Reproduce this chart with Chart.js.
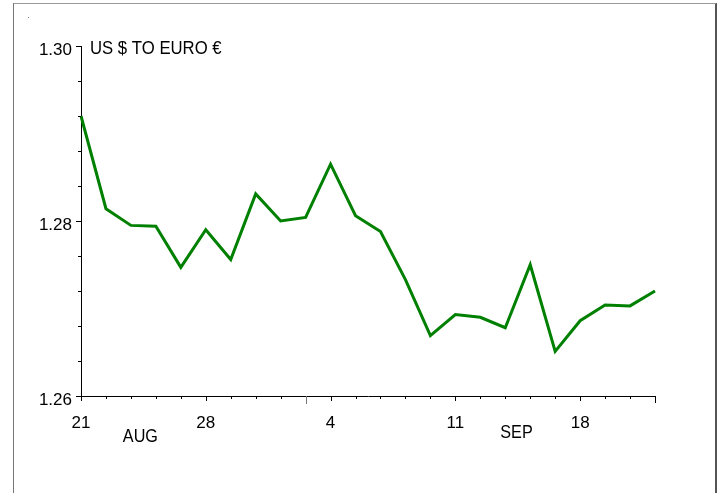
<!DOCTYPE html>
<html>
<head>
<meta charset="utf-8">
<script src="https://cdn.jsdelivr.net/npm/chart.js@4.4.0/dist/chart.umd.min.js"></script>
<style>
  html, body { margin: 0; padding: 0; background: #fff; }
  #wrap { position: relative; width: 723px; height: 493px; }
  #frame { position: absolute; left: 13px; top: 3px; width: 701px; height: 500px;
           border-top: 1px solid #999; border-left: 1px solid #777; border-right: 2px solid #555; }
  canvas { position: absolute; left: 0; top: 0; }
</style>
</head>
<body>
<div id="wrap">
  <div id="frame"></div>
  <canvas id="fx" width="723" height="493"></canvas>
</div>
<script>
// trading days, 21 Aug - 21 Sep
var days = ["21","22","23","24","25","28","29","30","31","1",
            "4","5","6","7","8","11","12","13","14","15","18","19","20","21"];
var usdEur = [1.2920, 1.2814, 1.2795, 1.2794, 1.2747, 1.2790, 1.2756, 1.2831, 1.2800, 1.2804,
              1.2865, 1.2806, 1.2788, 1.2733, 1.2669, 1.2693, 1.2690, 1.2678, 1.2750, 1.2651,
              1.2686, 1.2704, 1.2703, 1.2720];
var labelIdx = [0, 5, 10, 15, 20];   // 21, 28, 4, 11, 18
var yLabels = [1.26, 1.28, 1.30];
var months = [{ name: "AUG", at: 2.38, dy: 41 }, { name: "SEP", at: 17.45, dy: 37 }];
var monthStart = 9;                  // 1 Sep

var FONT = "'Liberation Sans', Arial, sans-serif";

var extras = {
  id: "extras",
  afterDraw: function (chart) {
    var c = chart.ctx, x = chart.scales.x, y = chart.scales.y;
    var ca = chart.chartArea;
    c.save();
    c.strokeStyle = "#000";
    c.lineWidth = 1;
    // x ticks
    for (var i = 0; i < days.length; i++) {
      var px = Math.round(x.getPixelForValue(i)) + 0.5;
      var len = labelIdx.indexOf(i) >= 0 ? 5 : 3;
      if (i === days.length - 1) len = 7;
      c.beginPath(); c.moveTo(px, ca.bottom); c.lineTo(px, ca.bottom + len); c.stroke();
    }
    var mp = Math.round(x.getPixelForValue(monthStart)) + 0.5;
    c.strokeStyle = "#777";
    c.beginPath(); c.moveTo(mp, ca.bottom); c.lineTo(mp, ca.bottom + 8); c.stroke();
    // y ticks
    c.strokeStyle = "#000";
    for (var v = 0; v <= 10; v++) {
      var py = Math.round(y.getPixelForValue(1.26 + v * 0.004)) + 0.5;
      var l = (v % 5 === 0) ? 5 : 3;
      c.beginPath(); c.moveTo(ca.left, py); c.lineTo(ca.left - l, py); c.stroke();
    }
    // month names
    c.fillStyle = "#000";
    c.textAlign = "center";
    c.textBaseline = "middle";
    months.forEach(function (m) {
      c.save();
      c.translate(x.getPixelForValue(m.at), ca.bottom + m.dy);
      c.scale(0.9, 1);
      c.font = "18px " + FONT;
      c.fillText(m.name, 0, 0);
      c.restore();
    });
    // title
    c.save();
    c.translate(ca.left + 9, ca.top + 3);
    c.scale(0.88, 1);
    c.textAlign = "left";
    c.font = "19px " + FONT;
    c.fillText("US $ TO EURO \u20AC", 0, 0);
    c.restore();
    // small speck top-left
    c.fillStyle = "#888";
    c.fillRect(28, 17, 1, 1);
    c.restore();
  }
};

new Chart(document.getElementById("fx"), {
  type: "line",
  data: {
    labels: days,
    datasets: [{
      data: usdEur,
      borderColor: "#008000",
      borderWidth: 3,
      pointRadius: 0,
      tension: 0,
      fill: false
    }]
  },
  options: {
    responsive: false,
    animation: false,
    layout: { padding: { left: 21, top: 46, right: 68, bottom: 0 } },
    plugins: { legend: { display: false }, tooltip: { enabled: false } },
    scales: {
      x: {
        type: "category",
        offset: false,
        afterFit: function (s) { s.height = 97; },
        grid: { display: false },
        border: { display: true, color: "#000", width: 1 },
        ticks: {
          autoSkip: false,
          maxRotation: 0,
          padding: 9,
          color: "#000",
          font: { family: FONT, size: 17 },
          callback: function (val, i) { return labelIdx.indexOf(i) >= 0 ? days[i] : ""; }
        }
      },
      y: {
        min: 1.26,
        max: 1.30,
        afterFit: function (s) { s.width = 60; },
        grid: { display: false },
        border: { display: true, color: "#000", width: 1 },
        ticks: {
          stepSize: 0.004,
          padding: 1,
          labelOffset: 4,
          color: "#000",
          font: { family: FONT, size: 17 },
          callback: function (val) {
            for (var k = 0; k < yLabels.length; k++) {
              if (Math.abs(val - yLabels[k]) < 1e-6) return yLabels[k].toFixed(2);
            }
            return "";
          }
        }
      }
    }
  },
  plugins: [extras]
});
</script>
</body>
</html>
